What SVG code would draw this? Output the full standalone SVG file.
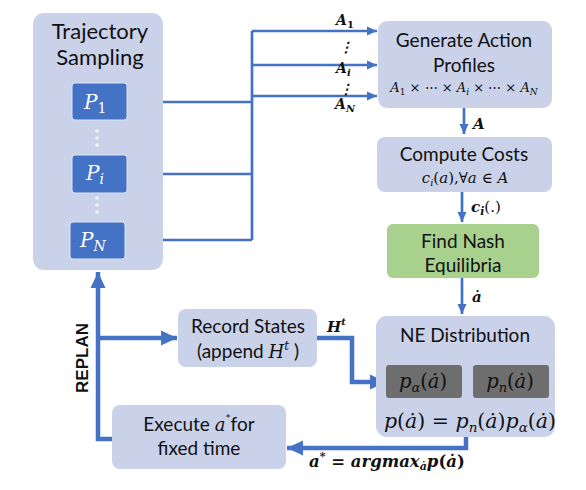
<svg xmlns="http://www.w3.org/2000/svg" width="586" height="490" viewBox="0 0 586 490">
<defs>
<style>
.box{fill:#CAD2EA;}
.pbox{fill:#4472C4;stroke:#DCE3F3;stroke-width:1;}
.gbox{fill:#6E6E6E;}
.nash{fill:#A9D18E;}
.t{font-family:Lato,"Open Sans",sans-serif;fill:#111;text-anchor:middle;}
.m{font-family:"DejaVu Serif","Liberation Serif",serif;font-style:italic;fill:#111;}
.mb{font-family:"DejaVu Serif","Liberation Serif",serif;font-style:italic;font-weight:bold;fill:#111;}
.u{font-style:normal;}
.thin{fill:none;stroke:#4472C4;stroke-width:2.7;}
.thick{fill:none;stroke:#4472C4;stroke-width:4.5;}
</style>
<marker id="ah" markerUnits="userSpaceOnUse" markerWidth="12" markerHeight="10" refX="10" refY="5" orient="auto"><path d="M0,0.5 L10,5 L0,9.5 Z" fill="#4472C4"/></marker>
<marker id="ahb" markerUnits="userSpaceOnUse" markerWidth="18" markerHeight="16" refX="16" refY="8" orient="auto"><path d="M0,0.5 L16,8 L0,15.5 Z" fill="#4472C4"/></marker>
</defs>
<rect width="586" height="490" fill="#ffffff"/>

<g id="connectors">
<path class="thin" d="M127,102 H252 M127,174 H252 M125,240 H252 M252,31 V240"/>
<path class="thin" d="M252,31 H377" marker-end="url(#ah)"/>
<path class="thin" d="M252,65 H377" marker-end="url(#ah)"/>
<path class="thin" d="M252,96 H377" marker-end="url(#ah)"/>
<path class="thin" d="M464,108 V134" marker-end="url(#ah)"/>
<path class="thin" d="M462,192 V222" marker-end="url(#ah)"/>
<path class="thin" d="M462,278 V314" marker-end="url(#ah)"/>
<path class="thick" d="M317,338 H352 V382 H386" marker-end="url(#ahb)"/>
<path class="thick" d="M466,437 V448 H287" marker-end="url(#ahb)"/>
<path class="thick" d="M112,439 H98 V272" marker-end="url(#ahb)"/>
<path class="thick" d="M98,338 H177" marker-end="url(#ahb)"/>
<text class="mb" font-size="14" x="336" y="25">A<tspan class="u" font-size="10" dy="3">1</tspan></text>
<text class="mb" font-size="14" x="339" y="52">⋮</text>
<text class="mb" font-size="14" x="336" y="73">A<tspan font-size="10" dy="3">i</tspan></text>
<text class="mb" font-size="14" x="339" y="94">⋮</text>
<text class="mb" font-size="14" x="335" y="109">A<tspan font-size="10" dy="3">N</tspan></text>
<text class="mb" font-size="15" x="473" y="129">A</text>
<text class="mb" font-size="15" x="471" y="212">c<tspan font-size="11" dy="3">i</tspan><tspan class="u" dy="-3" font-weight="normal">(.)</tspan></text>
<text class="mb" font-size="15" x="472" y="302">ȧ</text>
<text class="mb" font-size="15" x="327" y="332">H<tspan font-size="10" dy="-7">t</tspan></text>
<text class="mb" font-size="16.5" x="309" y="467">a<tspan class="u" font-size="11" dy="-7">*</tspan><tspan class="u" dy="7"> = </tspan><tspan>argmax</tspan><tspan font-size="11" dy="3">ȧ</tspan><tspan dy="-3">p</tspan><tspan class="u">(</tspan>ȧ<tspan class="u">)</tspan></text>
<text font-family="Liberation Sans,Arial,sans-serif" font-weight="bold" font-size="17" fill="#111" text-anchor="middle" transform="translate(88,358) rotate(-90)">REPLAN</text>
</g>

<g id="trajectory">
<rect class="box" x="33" y="13" width="130" height="257" rx="11"/>
<text class="t" font-size="22" x="100" y="39">Trajectory</text>
<text class="t" font-size="22" x="100" y="65">Sampling</text>
</g>
<g id="p1">
<rect class="pbox" x="72" y="83" width="55" height="37" rx="3"/>
<text class="m" font-size="20" x="84" y="109" style="fill:#fff">P<tspan class="u" font-size="14" dy="4">1</tspan></text>
</g>
<g id="dots" fill="#F2F4FA">
<circle cx="97" cy="131" r="1.8"/><circle cx="97" cy="138" r="1.8"/><circle cx="97" cy="145" r="1.8"/>
<circle cx="97" cy="198" r="1.8"/><circle cx="97" cy="205" r="1.8"/><circle cx="97" cy="212" r="1.8"/>
</g>
<g id="pi">
<rect class="pbox" x="72" y="155" width="55" height="38" rx="3"/>
<text class="m" font-size="20" x="86" y="180" style="fill:#fff">P<tspan font-size="14" dy="4">i</tspan></text>
</g>
<g id="pn">
<rect class="pbox" x="70" y="222" width="55" height="37" rx="3"/>
<text class="m" font-size="20" x="80" y="247" style="fill:#fff">P<tspan font-size="14" dy="4">N</tspan></text>
</g>

<g id="generate">
<rect class="box" x="378" y="21" width="174" height="87" rx="9"/>
<text class="t" font-size="19" x="464" y="47">Generate Action</text>
<text class="t" font-size="19" x="464" y="72">Profiles</text>
<text class="m" font-size="13" x="464" y="92" text-anchor="middle">A<tspan class="u" font-size="9" dy="3">1</tspan><tspan class="u" dy="-3"> × ⋯ × </tspan>A<tspan font-size="9" dy="3">i</tspan><tspan class="u" dy="-3"> × ⋯ × </tspan>A<tspan font-size="9" dy="3">N</tspan></text>
</g>

<g id="compute">
<rect class="box" x="377" y="137" width="175" height="55" rx="8"/>
<text class="t" font-size="19" x="464" y="161">Compute Costs</text>
<text class="m" font-size="15" x="465" y="183" text-anchor="middle">c<tspan font-size="10" dy="3">i</tspan><tspan class="u" dy="-3">(</tspan>a<tspan class="u">),∀</tspan>a<tspan class="u"> ∈ </tspan>A</text>
</g>

<g id="nash">
<rect class="nash" x="387" y="224" width="152" height="54" rx="6"/>
<text class="t" font-size="19" x="463" y="248">Find Nash</text>
<text class="t" font-size="19" x="463" y="272">Equilibria</text>
</g>

<g id="ne">
<rect class="box" x="376" y="316" width="179" height="121" rx="11"/>
<text class="t" font-size="19" x="465" y="342">NE Distribution</text>
<rect class="gbox" x="386" y="365" width="76" height="33" rx="3"/>
<rect class="gbox" x="473" y="365" width="76" height="33" rx="3"/>
<text class="m" font-size="19.5" x="423" y="388" text-anchor="middle">p<tspan font-size="13" dy="4">α</tspan><tspan class="u" dy="-4">(</tspan>ȧ<tspan class="u">)</tspan></text>
<text class="m" font-size="19.5" x="510" y="388" text-anchor="middle">p<tspan font-size="13" dy="4">n</tspan><tspan class="u" dy="-4">(</tspan>ȧ<tspan class="u">)</tspan></text>
<text class="m" font-size="20.5" x="470" y="428" text-anchor="middle">p<tspan class="u">(</tspan>ȧ<tspan class="u">) = </tspan>p<tspan font-size="13.5" dy="4">n</tspan><tspan class="u" dy="-4">(</tspan>ȧ<tspan class="u">)</tspan>p<tspan font-size="13.5" dy="4">α</tspan><tspan class="u" dy="-4">(</tspan>ȧ<tspan class="u">)</tspan></text>
</g>

<g id="record">
<rect class="box" x="178" y="309" width="139" height="58" rx="8"/>
<text class="t" font-size="19" x="248" y="333">Record States</text>
<text class="t" font-size="19" x="248" y="358">(append <tspan class="m" font-size="18">H</tspan><tspan class="m" font-size="12" dy="-8">t</tspan><tspan dy="8"> )</tspan></text>
</g>

<g id="execute">
<rect class="box" x="112" y="405" width="174" height="64" rx="8"/>
<text class="t" font-size="19" x="199" y="431">Execute <tspan class="m" font-size="18">a</tspan><tspan font-size="12" dy="-8">*</tspan><tspan dy="8">for</tspan></text>
<text class="t" font-size="19" x="199" y="455">fixed time</text>
</g>
</svg>
